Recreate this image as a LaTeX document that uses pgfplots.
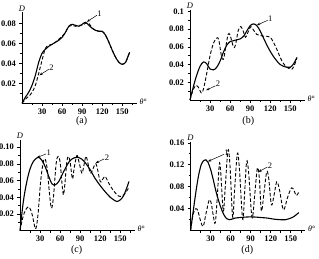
\documentclass[border=0pt]{standalone}
\usepackage{fontspec}
\setmainfont{Liberation Serif}
\usepackage{pgfplots}
\pgfplotsset{compat=1.18}
\usetikzlibrary{arrows.meta}

\pgfplotsset{
  panel/.style={
    scale only axis, width=115pt, anchor=south west,
    xmin=0, xmax=172, ymin=0,
    axis x line=bottom, axis y line=left,
    axis line style={-, line width=0.7pt},
    xtick={30,60,90,120,150}, xticklabels={30,60,90,120,150},
    minor xtick={15,45,75,105,135,165},
    scaled y ticks=false,
    tick align=outside, major tick length=2.5pt, minor tick length=1.8pt,
    tick style={black, line width=0.6pt},
    ticklabel style={font=\fontsize{8.5}{9}\bfseries\selectfont},
    xticklabel style={yshift=0.5pt},
    clip=false,
  },
  curveA/.style={black, line width=1.1pt, smooth, tension=0.55},
  curveB/.style={black, line width=0.9pt, smooth, tension=0.55, dash pattern=on 3.5pt off 2pt},
}
\tikzset{
  pointer/.style={line width=0.5pt, -{Stealth[length=3.5pt,width=2.5pt]}},
  tag/.style={font=\fontsize{8.5}{9}\selectfont},
  panelcap/.style={font=\fontsize{10}{11}\selectfont},
}
\newcommand{\axistags}{%
  \node[anchor=south, font=\fontsize{8.5}{9}\itshape\selectfont, inner sep=1pt] at (rel axis cs:0,1) {D};
  \node[anchor=west, font=\fontsize{8}{9}\selectfont, inner sep=1pt, xshift=1.5pt, yshift=1.5pt] at (rel axis cs:1,0) {\textit{θ}°};
}

\begin{document}
\begin{tikzpicture}
\useasboundingbox (0pt,0pt) rectangle (319pt,258pt);

% ---------- (a) ----------
\begin{axis}[panel, at={(22pt,154.7pt)}, height=91pt, ymax=0.091,
  ytick={0.02,0.04,0.06,0.08}, yticklabels={0.02,0.04,0.06,0.08},
  minor ytick={0.01,0.03,0.05,0.07}]
\addplot[curveA] coordinates {
 (0,0) (5,0.006) (10,0.011) (15,0.018) (20,0.028) (25,0.041) (30,0.050)
 (35,0.054) (40,0.057) (45,0.059) (50,0.061) (55,0.063) (60,0.066) (65,0.071)
 (70,0.077) (75,0.079) (80,0.078) (85,0.077) (90,0.079) (95,0.081) (100,0.078)
 (105,0.075) (110,0.073) (115,0.072) (120,0.072) (125,0.068) (130,0.061)
 (135,0.053) (140,0.046) (145,0.041) (150,0.039) (155,0.041) (158,0.046) (161,0.051)};
\addplot[curveB] coordinates {
 (0,0) (5,0.004) (10,0.007) (15,0.011) (20,0.018) (25,0.030) (30,0.043)
 (35,0.055) (40,0.058) (45,0.059) (50,0.061) (55,0.064) (60,0.067) (65,0.071)
 (70,0.077) (75,0.078) (80,0.077) (85,0.078) (90,0.078) (95,0.080) (100,0.080)
 (105,0.075) (110,0.073) (115,0.072) (120,0.072) (125,0.068) (130,0.061)
 (135,0.053) (140,0.046) (145,0.041) (150,0.039) (155,0.041) (158,0.046) (161,0.051)};
\draw[pointer] (axis cs:112,0.088) -- (axis cs:97,0.0815);
\node[tag] at (axis cs:116,0.090) {1};
\draw[pointer] (axis cs:40,0.034) -- (axis cs:26,0.028);
\node[tag] at (axis cs:44,0.036) {2};
\axistags
\end{axis}

% ---------- (b) ----------
\begin{axis}[panel, at={(190pt,158pt)}, height=90pt, ymax=0.1017,
  ytick={0.02,0.04,0.06,0.08,0.1}, yticklabels={0.02,0.04,0.06,0.08,0.1},
  minor ytick={0.01,0.03,0.05,0.07,0.09}]
\addplot[curveA] coordinates {
 (0,0) (5,0.015) (10,0.028) (15,0.038) (20,0.043) (25,0.041) (30,0.035)
 (35,0.034) (40,0.037) (45,0.044) (50,0.054) (55,0.062) (60,0.066) (65,0.067)
 (70,0.068) (75,0.069) (80,0.072) (85,0.078) (90,0.084) (95,0.086) (100,0.084)
 (105,0.078) (110,0.070) (115,0.062) (120,0.055) (125,0.049) (130,0.044)
 (135,0.040) (140,0.038) (145,0.037) (150,0.037) (155,0.041) (160,0.048)};
\addplot[curveB] coordinates {
 (0,0) (4,0.010) (8,0.016) (12,0.015) (17,0.008) (20,0.012) (25,0.030)
 (30,0.050) (35,0.064) (40,0.070) (43,0.068) (47,0.050) (50,0.046) (53,0.058)
 (57,0.074) (60,0.073) (65,0.060) (68,0.062) (72,0.078) (76,0.083) (80,0.077)
 (83,0.071) (87,0.077) (91,0.083) (95,0.079) (100,0.074) (105,0.073)
 (110,0.072) (115,0.072) (120,0.071) (125,0.065) (130,0.057) (135,0.048)
 (140,0.041) (145,0.037) (150,0.035) (153,0.035) (157,0.041) (160,0.048)};
\draw[pointer] (axis cs:116,0.090) -- (axis cs:100,0.0845);
\node[tag] at (axis cs:120,0.092) {1};
\draw[pointer] (axis cs:38,0.016) -- (axis cs:24,0.011);
\node[tag] at (axis cs:42,0.018) {2};
\axistags
\end{axis}

% ---------- (c) ----------
\begin{axis}[panel, at={(20pt,27.3pt)}, height=91pt, ymax=0.109,
  ytick={0.02,0.04,0.06,0.08,0.10}, yticklabels={0.02,0.04,0.06,0.08,0.10},
  minor ytick={0.01,0.03,0.05,0.07,0.09}]
\addplot[curveA] coordinates {
 (0,0) (5,0.035) (10,0.058) (15,0.074) (20,0.083) (25,0.087) (28,0.088)
 (33,0.084) (38,0.076) (43,0.065) (48,0.056) (53,0.055) (58,0.059) (63,0.067)
 (68,0.075) (73,0.082) (78,0.086) (85,0.088) (92,0.086) (98,0.081) (105,0.073)
 (112,0.063) (120,0.054) (127,0.047) (135,0.040) (140,0.037) (145,0.035)
 (150,0.037) (155,0.042) (160,0.052) (163,0.059)};
\addplot[curveB] coordinates {
 (0,0) (5,0.018) (10,0.027) (14,0.028) (18,0.020) (22,0.005) (24,0.003)
 (27,0.020) (31,0.060) (35,0.083) (38,0.085) (41,0.072) (44,0.045) (47,0.027)
 (50,0.040) (54,0.080) (57,0.089) (60,0.082) (63,0.055) (65,0.043) (67,0.055)
 (70,0.082) (72.5,0.089) (75,0.082) (78.5,0.062) (81,0.075) (85,0.090)
 (88,0.083) (92.5,0.069) (95,0.076) (98.5,0.089) (101,0.083) (105,0.069)
 (108,0.072) (112.5,0.080) (115,0.077) (120,0.059) (124,0.062) (127.5,0.065)
 (132,0.058) (138,0.050) (145,0.043) (150,0.041) (155,0.043) (160,0.048) (163,0.052)};
\draw[pointer] (axis cs:39,0.092) -- (axis cs:25,0.0875);
\node[tag] at (axis cs:43,0.094) {1};
\draw[pointer] (axis cs:126,0.086) -- (axis cs:113,0.081);
\node[tag] at (axis cs:130,0.088) {2};
\axistags
\end{axis}

% ---------- (d) ----------
\begin{axis}[panel, at={(190.5pt,27.3pt)}, height=89pt, ymax=0.162,
  ytick={0.04,0.08,0.12,0.16}, yticklabels={0.04,0.08,0.12,0.16},
  minor ytick={0.02,0.06,0.10,0.14}]
\addplot[curveA] coordinates {
 (0,0) (4,0.035) (8,0.070) (12,0.100) (16,0.120) (20,0.128) (23,0.129)
 (26,0.125) (30,0.112) (34,0.093) (38,0.072) (42,0.055) (46,0.040) (50,0.029)
 (54,0.022) (58,0.020) (62,0.021) (67,0.023) (75,0.024) (85,0.025) (95,0.025)
 (105,0.024) (115,0.023) (125,0.021) (135,0.020) (142,0.020) (148,0.022)
 (155,0.026) (162,0.033)};
\addplot[curveB] coordinates {
 (0,0) (4,0.030) (8,0.040) (11,0.036) (15,0.018) (19,0.008) (23,0.030)
 (28,0.056) (31,0.050) (34,0.028) (37,0.014) (40,0.060) (43,0.120) (45,0.110)
 (49,0.036) (52,0.080) (56,0.146) (59,0.120) (63,0.025) (66,0.075) (70,0.140)
 (73,0.115) (78,0.021) (81,0.070) (84,0.126) (87,0.105) (92,0.024) (96,0.065)
 (100,0.114) (103,0.095) (106,0.036) (110,0.070) (114,0.107) (117,0.095)
 (121,0.047) (125,0.065) (129,0.089) (133,0.075) (139,0.038) (145,0.060)
 (151,0.078) (155,0.073) (158,0.064) (162,0.070)};
\draw[pointer] (axis cs:50,0.139) -- (axis cs:26,0.126);
\node[tag] at (axis cs:54,0.142) {1};
\draw[pointer] (axis cs:115,0.116) -- (axis cs:101.5,0.107);
\node[tag] at (axis cs:119,0.119) {2};
\axistags
\end{axis}

% panel captions
\node[panelcap] at (81.7pt,137pt) {(a)};
\node[panelcap] at (248.3pt,137pt) {(b)};
\node[panelcap] at (76.7pt,8pt) {(c)};
\node[panelcap] at (247.3pt,8pt) {(d)};
\end{tikzpicture}
\end{document}
